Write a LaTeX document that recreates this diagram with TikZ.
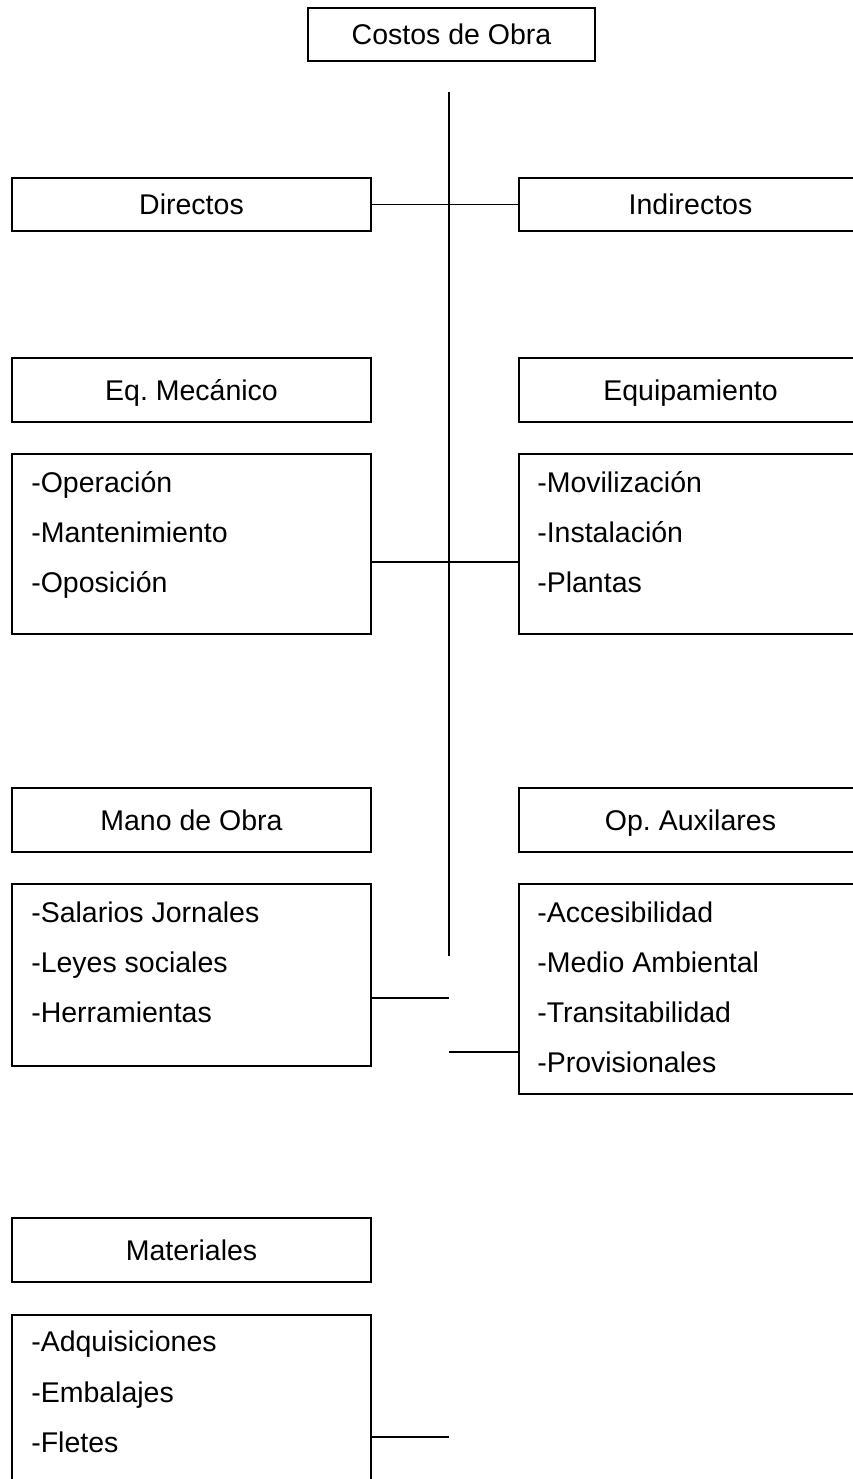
\documentclass[tikz,border=0pt]{standalone}
\usepackage{fontspec}
\setmainfont{Liberation Sans}
\frenchspacing
\begin{document}
\begin{tikzpicture}[x=1pt,y=-1pt,
  hdr/.style={draw, line width=1.8pt, inner sep=0pt, minimum height=64pt,
    text height=26pt, text depth=6pt,
    font=\fontsize{28.5}{34}\selectfont},
  lbox/.style={draw, line width=1.8pt, inner sep=0pt},
  itm/.style={anchor=base west, inner sep=0pt, font=\fontsize{28.5}{34}\selectfont},
  conn/.style={line width=1.8pt}]
\useasboundingbox (0,0) rectangle (853,1479);
\clip (0,0) rectangle (853,1479);
% header boxes
\node[hdr, minimum width=287pt, minimum height=53pt] (costos) at (451.5,34.5) {Costos de Obra};
\node[hdr, minimum width=359pt, minimum height=53pt] (dir) at (191.5,204.5) {Directos};
\node[hdr, minimum width=343pt, minimum height=53pt] (ind) at (690.5,204.5) {Indirectos};
\node[hdr, minimum width=359pt] (eqm) at (191.5,390) {Eq.\ Mecánico};
\node[hdr, minimum width=343pt] (equ) at (690.5,390) {Equipamiento};
\node[hdr, minimum width=359pt] (mano) at (191.5,820) {Mano de Obra};
\node[hdr, minimum width=343pt] (opa) at (690.5,820) {Op.\ Auxilares};
\node[hdr, minimum width=359pt] (mat) at (191.5,1250) {Materiales};
% list boxes
\node[lbox, minimum width=359pt, minimum height=180pt] (eqmL) at (191.5,544) {};
\node[lbox, minimum width=343pt, minimum height=180pt] (equL) at (690.5,544) {};
\node[lbox, minimum width=359pt, minimum height=182pt] (manoL) at (191.5,975) {};
\node[lbox, minimum width=343pt, minimum height=210pt] (opaL) at (690.5,989) {};
\node[lbox, minimum width=359pt, minimum height=185pt] (matL) at (191.5,1407.5) {};
% list items
\node[itm] (e1) at ([shift={(20,39)}]eqmL.north west) {-Operación};
\node[itm] (e2) at ([shift={(20,89)}]eqmL.north west) {-Mantenimiento};
\node[itm] (e3) at ([shift={(20,139)}]eqmL.north west) {-Oposición};
\node[itm] (q1) at ([shift={(19,39)}]equL.north west) {-Movilización};
\node[itm] (q2) at ([shift={(19,89)}]equL.north west) {-Instalación};
\node[itm] (q3) at ([shift={(19,139)}]equL.north west) {-Plantas};
\node[itm] (m1) at ([shift={(20,39)}]manoL.north west) {-Salarios Jornales};
\node[itm] (m2) at ([shift={(20,89)}]manoL.north west) {-Leyes sociales};
\node[itm] (m3) at ([shift={(20,139)}]manoL.north west) {-Herramientas};
\node[itm] (o1) at ([shift={(19,39)}]opaL.north west) {-Accesibilidad};
\node[itm] (o2) at ([shift={(19,89)}]opaL.north west) {-Medio Ambiental};
\node[itm] (o3) at ([shift={(19,139)}]opaL.north west) {-Transitabilidad};
\node[itm] (o4) at ([shift={(19,189)}]opaL.north west) {-Provisionales};
\node[itm] (t1) at ([shift={(20,37)}]matL.north west) {-Adquisiciones};
\node[itm] (t2) at ([shift={(20,88)}]matL.north west) {-Embalajes};
\node[itm] (t3) at ([shift={(20,138)}]matL.north west) {-Fletes};
% trunk and junctions
\coordinate (ttop) at (449,92);
\coordinate (tbot) at (449,956);
\coordinate (j1) at (449,562);
\coordinate (j3) at (449,998);
\coordinate (j4) at (449,1052);
\coordinate (j5) at (449,1437);
\draw[conn] (ttop) -- (tbot);
\draw[conn] (dir.east) -- (ind.west);
\draw[conn] (eqmL.east |- j1) -- (equL.west |- j1);
\draw[conn] (manoL.east |- j3) -- (j3);
\draw[conn] (j4) -- (opaL.west |- j4);
\draw[conn] (matL.east |- j5) -- (j5);
\end{tikzpicture}
\end{document}
